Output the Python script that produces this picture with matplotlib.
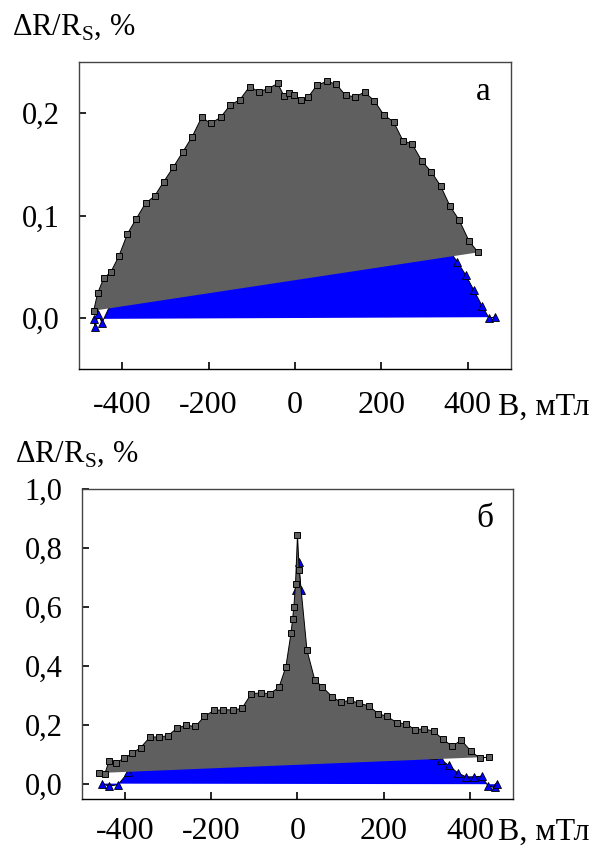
import matplotlib
matplotlib.use('Agg')
import matplotlib.pyplot as plt
from matplotlib.ticker import FuncFormatter

plt.rcParams['font.family'] = ['Liberation Serif', 'DejaVu Serif']
plt.rcParams['mathtext.fontset'] = 'custom'
plt.rcParams['mathtext.rm'] = 'Liberation Serif'
plt.rcParams['axes.unicode_minus'] = False

# panel a: squares (grey) and triangles (blue), B in mT, dR/Rs in %
gx_a = [-466, -457, -443, -426, -408, -388, -368, -346, -325, -304, -282, -260,
        -238, -216, -195, -172, -150, -128, -105, -84, -62, -40, -25, -15, -2,
        13, 31, 51, 74, 95, 117, 139, 161, 184, 206, 228, 250, 271, 294, 315,
        337, 359, 380, 403, 424]
gy_a = [0.007, 0.024, 0.0385, 0.045, 0.060, 0.082, 0.0965, 0.112, 0.119, 0.133,
        0.147, 0.162, 0.177, 0.196, 0.190, 0.196, 0.208, 0.213, 0.226, 0.221,
        0.224, 0.229, 0.2165, 0.220, 0.218, 0.213, 0.216, 0.2275, 0.231, 0.2285,
        0.2175, 0.216, 0.2205, 0.212, 0.198, 0.1917, 0.173, 0.170, 0.153, 0.143,
        0.129, 0.109, 0.0955, 0.075, 0.064]
bx_a = [-466, -463, -455, -447, -420, -400, -370, -330, -280, -230, -180, -130,
        -80, -30, 20, 70, 120, 170, 220, 270, 310, 340, 376, 395, 414, 433,
        449, 464]
by_a = [-0.001, -0.0085, 0.004, -0.005, 0.0195, 0.038, 0.058, 0.078, 0.095,
        0.108, 0.118, 0.124, 0.128, 0.128, 0.128, 0.13, 0.128, 0.122, 0.112,
        0.098, 0.086, 0.075, 0.0547, 0.042, 0.027, 0.0117, 0.0, 0.0007]

# panel b
gx_b = [-460, -447, -437, -421, -402, -383, -364, -342, -322, -301, -280, -259,
        -237, -216, -194, -172, -150, -129, -107, -85, -64, -43, -27, -15,
        -11.5, -8.5, -4.6, 0, 4, 22, 40, 58, 80, 100, 121, 143, 165, 187, 208,
        230, 251, 273, 294, 316, 337, 359, 380, 402, 423, 444]
gy_b = [0.038, 0.036, 0.079, 0.0735, 0.088, 0.105, 0.124, 0.160, 0.160, 0.164,
        0.189, 0.200, 0.1955, 0.2295, 0.250, 0.252, 0.252, 0.2565, 0.307, 0.309,
        0.307, 0.328, 0.397, 0.512, 0.558, 0.599, 0.679, 0.844, 0.725, 0.454,
        0.354, 0.329, 0.297, 0.278, 0.284, 0.2745, 0.2655, 0.2395, 0.2295,
        0.209, 0.2045, 0.185, 0.1875, 0.1797, 0.1525, 0.129, 0.149, 0.113,
        0.088, 0.0925]
bx_b = [-453, -437, -416, -393, -370, -330, -280, -230, -180, -130, -80, -40,
        -15, -3, 3, 8, 15, 40, 80, 130, 180, 230, 280, 315, 332, 351, 372,
        391, 410, 427, 443, 458, 464]
by_b = [0.002, -0.007, -0.001, 0.04, 0.07, 0.1, 0.13, 0.16, 0.18, 0.2, 0.23,
        0.27, 0.4, 0.658, 0.754, 0.658, 0.42, 0.3, 0.24, 0.2, 0.17, 0.15, 0.12,
        0.1, 0.0836, 0.064, 0.038, 0.025, 0.025, 0.027, -0.007, -0.011, 0.0]

xticks = [-400, -200, 0, 200, 400]
yticks_a = [0.0, 0.1, 0.2]
yticks_b = [0.0, 0.2, 0.4, 0.6, 0.8, 1.0]

GREY = '#5f5f5f'
BLUE = '#0000ff'
comma = FuncFormatter(lambda v, p: f'{v:.1f}'.replace('.', ','))

fig = plt.figure(figsize=(5.99, 8.47), dpi=100)
ax1 = fig.add_axes([0.1319, 0.5643, 0.7212, 0.3625])
ax2 = fig.add_axes([0.1369, 0.0567, 0.7195, 0.3660])


def draw(ax, bx, by, gx, gy, ylim, yticks, letter, xpad):
    # blue first, grey area drawn over it
    ax.fill(bx, by, color=BLUE, lw=0, zorder=1)
    ax.plot(bx, by, '-', color='black', lw=0.7, marker='^', ms=6,
            mfc=BLUE, mec='black', mew=0.6, zorder=2)
    ax.fill(gx, gy, color=GREY, lw=0, zorder=3)
    ax.plot(gx, gy, '-', color='black', lw=0.7, marker='s', ms=4.5,
            mfc=GREY, mec='black', mew=0.7, zorder=4)
    ax.set_xlim(-500, 500)
    ax.set_ylim(*ylim)
    ax.set_xticks(xticks)
    ax.set_yticks(yticks)
    ax.yaxis.set_major_formatter(comma)
    ax.tick_params(axis='x', direction='in', length=5, width=1.2,
                   labelsize=23, pad=xpad, top=False)
    ax.tick_params(axis='y', direction='in', length=5, width=1.2,
                   labelsize=22, pad=14, right=False)
    for s in ax.spines.values():
        s.set_color('#444444')
        s.set_linewidth(1.0)
    ax.spines['bottom'].set_color('black')
    ax.text(0.935, 0.876, letter, transform=ax.transAxes, fontsize=24,
            ha='center', va='baseline')


draw(ax1, bx_a, by_a, gx_a, gy_a, (-0.05, 0.25), yticks_a, 'а', 16)
draw(ax2, bx_b, by_b, gx_b, gy_b, (-0.05, 1.0), yticks_b, 'б', 13)

ylab = 'ΔR/R$_\\mathrm{S}$, %'
fig.text(0.020, 0.9587, ylab, fontsize=22, ha='left', va='baseline')
fig.text(0.025, 0.4545, ylab, fontsize=22, ha='left', va='baseline')
fig.text(498 / 599, 0.510, 'B, мТл', fontsize=23, ha='left', va='baseline')
fig.text(498 / 599, 0.009, 'B, мТл', fontsize=23, ha='left', va='baseline')

fig.savefig('out.png', dpi=100)
